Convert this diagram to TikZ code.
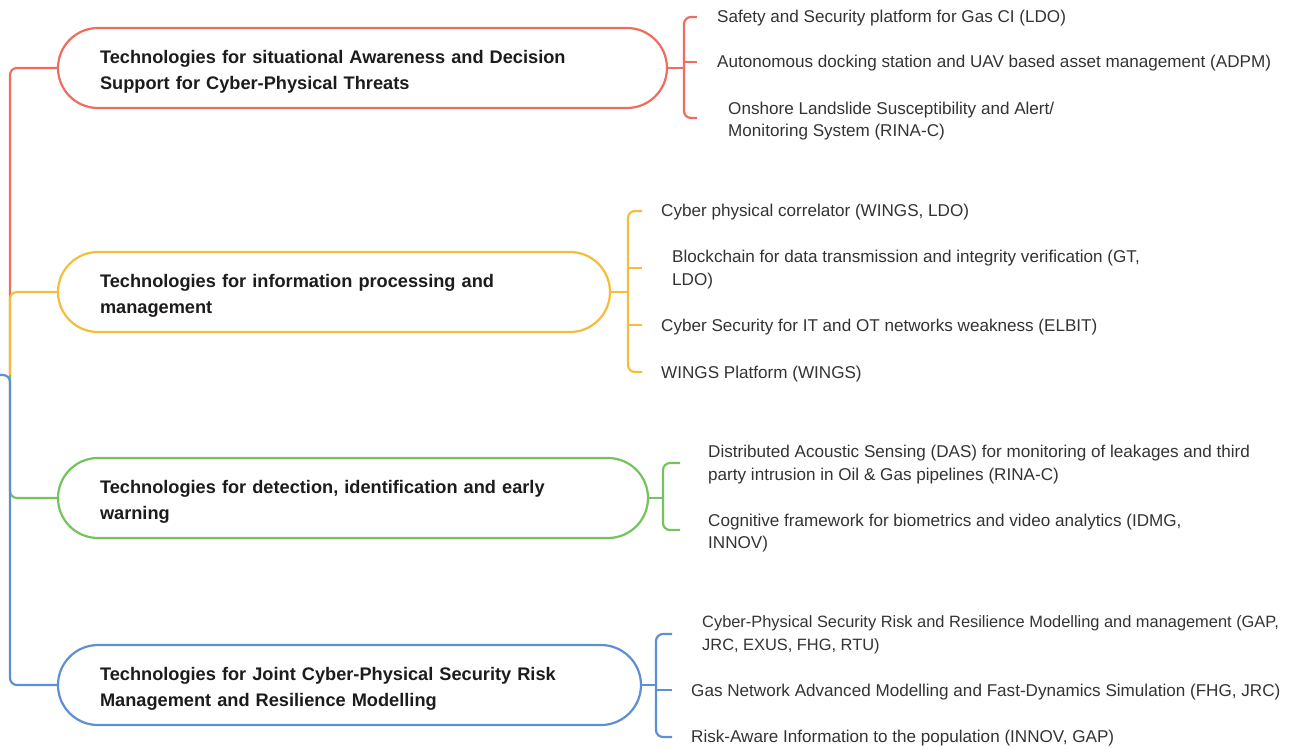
\documentclass[tikz,border=0pt]{standalone}
\usepackage{fontspec}
\setmainfont{Liberation Sans}
\definecolor{cred}{HTML}{EF6C5F}
\definecolor{cyel}{HTML}{F5BD3C}
\definecolor{cgrn}{HTML}{74C35B}
\definecolor{cblu}{HTML}{5F8FD3}
\definecolor{titlecol}{HTML}{1C1C1C}
\definecolor{labelcol}{HTML}{333333}
\begin{document}
\begin{tikzpicture}[x=1pt,y=-1pt,
  topic/.style={draw, line width=2.2pt, rounded corners=40pt, minimum height=80pt,
    inner xsep=42pt, inner ysep=0pt, align=left, fill=white, text=titlecol,
    font=\fontsize{18.2}{26}\selectfont\bfseries},
  item/.style={anchor=west, inner sep=0pt, align=left, text=labelcol,
    font=\fontsize{17.1}{22.5}\selectfont},
  link/.style={line width=2.2pt, rounded corners=7pt},
  tick/.style={line width=2.2pt}]
\useasboundingbox (0,0) rectangle (1297,748);

% main topics (text lowered slightly inside the capsule)
\node[topic, draw=cred, text width=525pt] (t1) at (362.5,68)
  {\rule{0pt}{20.5pt}Technologies for situational Awareness and Decision\\Support for Cyber-Physical Threats};
\node[topic, draw=cyel, text width=468pt] (t2) at (334,292)
  {\rule{0pt}{20.5pt}Technologies for information processing and\\management};
\node[topic, draw=cgrn, text width=506pt] (t3) at (353,498)
  {\rule{0pt}{20.5pt}Technologies for detection, identification and early\\warning};
\node[topic, draw=cblu, text width=499pt] (t4) at (349.5,685)
  {\rule{0pt}{20.5pt}Technologies for Joint Cyber-Physical Security Risk\\Management and Resilience Modelling};

% trunk from the root to each topic
\coordinate (root) at (0,375);
\coordinate (fork) at (10,375);
\draw[link, cred] (fork) |- (t1.west);
\draw[link, cyel] (fork) |- (t2.west);
\draw[link, cgrn] (fork) |- (t3.west);
\draw[link, cblu] (root) -- (fork) |- (t4.west);

% sub-items of topic 1
\node[item] (a1) at (717,18) {Safety and Security platform for Gas CI (LDO)};
\node[item] (a2) at (717,63) {Autonomous docking station and UAV based asset management (ADPM)};
\node[item] (a3) at (728,121) {Onshore Landslide Susceptibility and Alert/\\Monitoring System (RINA-C)};
\coordinate (s1) at (684,68);
\draw[tick, cred] (t1.east) -- (s1);
\draw[link, cred] (697,17) -- (684,17) -- (684,118) -- (697,118);
\draw[tick, cred] (684,62) -- (697,62);

% sub-items of topic 2
\node[item] (b1) at (661,212) {Cyber physical correlator (WINGS, LDO)};
\node[item] (b2) at (672,269.5) {Blockchain for data transmission and integrity verification (GT,\\LDO)};
\node[item] (b3) at (661,327) {Cyber Security for IT and OT networks weakness (ELBIT)};
\node[item] (b4) at (661,374) {WINGS Platform (WINGS)};
\coordinate (s2) at (628,292);
\draw[tick, cyel] (t2.east) -- (s2);
\draw[link, cyel] (642,211) -- (628,211) -- (628,372) -- (642,372);
\draw[tick, cyel] (628,268) -- (642,268);
\draw[tick, cyel] (628,325) -- (642,325);

% sub-items of topic 3
\node[item] (c1) at (708,464.5) {Distributed Acoustic Sensing (DAS) for monitoring of leakages and third\\party intrusion in Oil \& Gas pipelines (RINA-C)};
\node[item] (c2) at (708,533) {Cognitive framework for biometrics and video analytics (IDMG,\\INNOV)};
\coordinate (s3) at (663,498);
\draw[tick, cgrn] (t3.east) -- (s3);
\draw[link, cgrn] (680,463) -- (663,463) -- (663,530) -- (680,530);

% sub-items of topic 4
\node[item, font=\fontsize{16.4}{22.5}\selectfont] (d1) at (702,634.5) {Cyber-Physical Security Risk and Resilience Modelling and management (GAP,\\JRC, EXUS, FHG, RTU)};
\node[item] (d2) at (691,692) {Gas Network Advanced Modelling and Fast-Dynamics Simulation (FHG, JRC)};
\node[item] (d3) at (691,738) {Risk-Aware Information to the population (INNOV, GAP)};
\coordinate (s4) at (656,685);
\draw[tick, cblu] (t4.east) -- (s4);
\draw[link, cblu] (672,634) -- (656,634) -- (656,737) -- (672,737);
\draw[tick, cblu] (656,690) -- (672,690);
\end{tikzpicture}
\end{document}
